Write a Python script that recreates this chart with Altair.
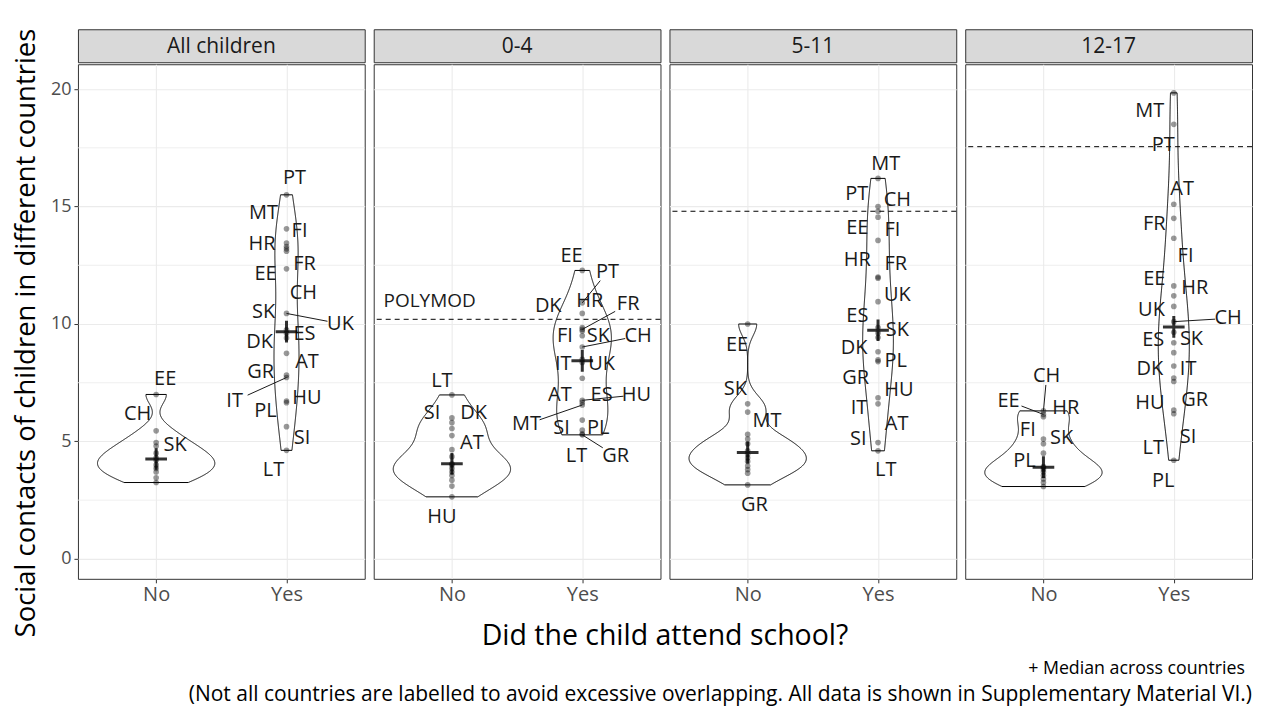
import altair as alt
import numpy as np
import pandas as pd

PANELS = ["All children", "0-4", "5-11", "12-17"]

# ---------------- data: mean social contacts per country ("" = unlabelled) ----------------
all_no_c = ["EE", "CH", "SK", "", "", "", "", "", "", "", "", ""]
all_no_v = [7.0, 5.45, 4.95, 4.8, 4.5, 4.3, 4.2, 4.0, 3.85, 3.7, 3.45, 3.25]
all_yes_c = ["PT", "FI", "MT", "HR", "FR", "CH", "EE", "UK", "SK", "ES", "DK", "AT", "GR", "IT", "HU", "PL", "SI", "LT"]
all_yes_v = [15.5, 14.05, 13.45, 13.3, 13.2, 13.1, 12.35, 10.45, 9.75, 9.6, 9.4, 8.75, 7.82, 7.72, 6.72, 6.65, 5.63, 4.62]

a04_no_c = ["LT", "SI", "DK", "", "", "AT", "", "", "", "", "", "", "", "", "HU"]
a04_no_v = [6.98, 6.0, 5.8, 5.55, 5.25, 4.65, 4.35, 4.05, 4.0, 3.85, 3.7, 3.55, 3.35, 3.1, 2.64]
a04_yes_c = ["EE", "PT", "HR", "DK", "FR", "FI", "SK", "CH", "IT", "UK", "AT", "HU", "ES", "MT", "SI", "PL", "LT", "GR"]
a04_yes_v = [12.28, 10.9, 10.45, 9.85, 9.77, 9.7, 9.5, 9.02, 8.5, 8.36, 7.69, 6.75, 6.66, 6.55, 5.91, 5.48, 5.32, 5.28]

a511_no_c = ["EE", "SK", "MT", "", "", "", "", "", "", "", "", "", "", "GR"]
a511_no_v = [10.0, 6.6, 6.25, 5.3, 5.1, 4.9, 4.6, 4.45, 4.3, 4.15, 3.95, 3.8, 3.65, 3.15]
a511_yes_c = ["MT", "CH", "PT", "EE", "FI", "HR", "FR", "UK", "ES", "SK", "DK", "PL", "GR", "HU", "IT", "AT", "SI", "LT"]
a511_yes_v = [16.2, 15.0, 14.8, 14.55, 13.56, 12.0, 11.95, 10.95, 9.85, 9.62, 9.42, 8.82, 8.47, 8.4, 6.86, 6.6, 4.95, 4.6]

a1217_no_c = ["CH", "EE", "HR", "SK", "FI", "", "", "PL", "", "", "", "", "", ""]
a1217_no_v = [6.3, 6.15, 6.05, 5.1, 4.9, 4.5, 3.93, 3.88, 3.8, 3.7, 3.55, 3.4, 3.25, 3.08]
a1217_yes_c = ["MT", "PT", "AT", "FR", "FI", "EE", "HR", "UK", "CH", "SK", "ES", "DK", "IT", "HU", "GR", "SI", "LT", "PL"]
a1217_yes_v = [19.84, 18.5, 15.1, 14.5, 13.65, 11.62, 11.2, 10.75, 10.1, 9.65, 9.2, 8.78, 8.21, 7.7, 7.55, 6.33, 6.18, 4.2]

# ---------------- label placement (repelled labels) ----------------
all_no_lab = ["EE", "CH", "SK"]
all_no_lx = [1.069, 0.858, 1.146]
all_no_ly = [7.65, 6.16, 4.85]
all_yes_lab = ["PT", "MT", "FI", "HR", "FR", "EE", "CH", "SK", "UK", "ES", "DK", "AT", "GR", "IT", "HU", "PL", "SI", "LT"]
all_yes_lx = [2.061, 1.824, 2.100, 1.812, 2.138, 1.839, 2.130, 1.824, 2.414, 2.138, 1.793, 2.157, 1.801, 1.602, 2.157, 1.839, 2.119, 1.900]
all_yes_ly = [16.2, 14.74, 13.96, 13.42, 12.57, 12.11, 11.33, 10.52, 10.01, 9.59, 9.25, 8.38, 7.96, 6.72, 6.86, 6.30, 5.14, 3.77]

a04_no_lab = ["LT", "SI", "DK", "AT", "HU"]
a04_no_lx = [0.923, 0.847, 1.166, 1.153, 0.923]
a04_no_ly = [7.57, 6.23, 6.23, 4.95, 1.79]
a04_yes_lab = ["EE", "PT", "DK", "HR", "FR", "FI", "SK", "CH", "IT", "UK", "AT", "ES", "HU", "MT", "SI", "PL", "LT", "GR"]
a04_yes_lx = [1.918, 2.194, 1.739, 2.058, 2.352, 1.867, 2.123, 2.429, 1.854, 2.148, 1.828, 2.148, 2.416, 1.573, 1.841, 2.123, 1.956, 2.257]
a04_yes_ly = [12.89, 12.23, 10.77, 10.98, 10.84, 9.49, 9.49, 9.49, 8.28, 8.28, 6.98, 6.98, 6.98, 5.73, 5.56, 5.56, 4.38, 4.38]

a511_no_lab = ["EE", "SK", "MT", "GR"]
a511_no_lx = [0.918, 0.906, 1.148, 1.051]
a511_no_ly = [9.11, 7.22, 5.87, 2.30]
a511_yes_lab = ["MT", "PT", "CH", "EE", "FI", "HR", "FR", "UK", "ES", "SK", "DK", "PL", "GR", "HU", "IT", "AT", "SI", "LT"]
a511_yes_lx = [2.059, 1.837, 2.148, 1.841, 2.110, 1.841, 2.136, 2.148, 1.841, 2.148, 1.816, 2.136, 1.829, 2.161, 1.854, 2.143, 1.849, 2.059]
a511_yes_ly = [16.82, 15.52, 15.26, 14.07, 13.99, 12.71, 12.57, 11.23, 10.34, 9.73, 8.97, 8.43, 7.69, 7.18, 6.44, 5.73, 5.09, 3.77]

a1217_no_lab = ["CH", "EE", "HR", "FI", "SK", "PL"]
a1217_no_lx = [1.025, 0.732, 1.171, 0.880, 1.140, 0.854]
a1217_no_ly = [7.79, 6.72, 6.41, 5.48, 5.16, 4.17]
a1217_yes_lab = ["MT", "PT", "AT", "FR", "FI", "EE", "HR", "UK", "CH", "ES", "SK", "DK", "IT", "HU", "GR", "LT", "SI", "PL"]
a1217_yes_lx = [1.816, 1.919, 2.064, 1.850, 2.090, 1.850, 2.161, 1.829, 2.417, 1.842, 2.136, 1.816, 2.110, 1.816, 2.161, 1.842, 2.110, 1.919]
a1217_yes_ly = [19.06, 17.62, 15.73, 14.27, 12.89, 11.90, 11.55, 10.58, 10.24, 9.31, 9.35, 8.07, 8.07, 6.65, 6.75, 4.74, 5.19, 3.32]

# labels that are joined to their point by a leader line
seg_all = {"Yes": ["UK", "IT"]}
seg_a04 = {"Yes": ["PT", "FR", "CH", "HU", "MT", "GR"]}
seg_a511 = {}
seg_a1217 = {"No": ["CH", "EE"], "Yes": ["CH"]}

# dashed reference values (POLYMOD)
ref_panel = ["0-4", "5-11", "12-17"]
ref_value = [10.2, 14.8, 17.55]

minor_grid = [2.5, 7.5, 12.5, 17.5]

# ---------------- build tables ----------------
groups = {
    "All children": dict(no=(all_no_c, all_no_v), yes=(all_yes_c, all_yes_v),
                         lno=(all_no_lab, all_no_lx, all_no_ly), lyes=(all_yes_lab, all_yes_lx, all_yes_ly), seg=seg_all),
    "0-4": dict(no=(a04_no_c, a04_no_v), yes=(a04_yes_c, a04_yes_v),
                lno=(a04_no_lab, a04_no_lx, a04_no_ly), lyes=(a04_yes_lab, a04_yes_lx, a04_yes_ly), seg=seg_a04),
    "5-11": dict(no=(a511_no_c, a511_no_v), yes=(a511_yes_c, a511_yes_v),
                 lno=(a511_no_lab, a511_no_lx, a511_no_ly), lyes=(a511_yes_lab, a511_yes_lx, a511_yes_ly), seg=seg_a511),
    "12-17": dict(no=(a1217_no_c, a1217_no_v), yes=(a1217_yes_c, a1217_yes_v),
                  lno=(a1217_no_lab, a1217_no_lx, a1217_no_ly), lyes=(a1217_yes_lab, a1217_yes_lx, a1217_yes_ly), seg=seg_a1217),
}


def kde(vals):
    v = np.asarray(vals, float)
    n = v.size
    sd = v.std(ddof=1)
    q1, q3 = np.percentile(v, [25, 75])
    bw = 0.9 * min(sd, (q3 - q1) / 1.34) * n ** -0.2
    ys = np.linspace(v.min(), v.max(), 512)
    d = np.exp(-0.5 * ((ys[:, None] - v[None, :]) / bw) ** 2).sum(1) / (n * bw * np.sqrt(2 * np.pi))
    return ys, d


W, H, SH = 287, 515, 33
GAP = 9
FONT = "Open Sans"
YDOM = [-0.85, 21.06]
PXX = W / 2.2
PXY = H / (YDOM[1] - YDOM[0])


def panel_tables(name):
    g = groups[name]
    pts, vio, labs, segs = [], [], [], []
    dens = {}
    for grp, pos, key in (("No", 1, "no"), ("Yes", 2, "yes")):
        cs, vs = g[key]
        for c, v in zip(cs, vs):
            pts.append(dict(x=pos, y=v, country=c, grp=grp))
        dens[grp] = kde(vs)
    m = max(dens["No"][1].max(), dens["Yes"][1].max())
    for grp, pos in (("No", 1), ("Yes", 2)):
        ys, d = dens[grp]
        hw = 0.45 * d / m
        for yy, h in zip(ys, hw):
            vio.append(dict(grp=grp, y=yy, lo=pos - h, hi=pos + h))
    for grp, pos, key in (("No", 1, "lno"), ("Yes", 2, "lyes")):
        cs, vs = g[key[1:]]
        lab, lx, ly = g[key]
        lookup = dict(zip(cs, vs))
        for c, x, y in zip(lab, lx, ly):
            labs.append(dict(x=x, y=y, label=c))
            if c in g["seg"].get(grp, []):
                py = lookup[c]
                dxp = (pos - x) * PXX
                dyp = (py - y) * PXY
                t = min(13 / max(abs(dxp), 1e-6), 9 / max(abs(dyp), 1e-6))
                segs.append(dict(x=x + t * (pos - x), y=y + t * (py - y), x2=pos, y2=py))
    return pd.DataFrame(pts), pd.DataFrame(vio), pd.DataFrame(labs), pd.DataFrame(segs)


XS = alt.Scale(domain=[0.4, 2.6], nice=False, zero=False)
YS = alt.Scale(domain=YDOM, nice=False, zero=False)


def X(field):
    return alt.X(f"{field}:Q", scale=XS,
                 axis=alt.Axis(values=[1, 2], labelExpr="datum.value == 1 ? 'No' : 'Yes'", title=None,
                               grid=True, gridColor="#EBEBEB", gridWidth=1.1, domain=False,
                               tickColor="#333333", tickSize=4, labelColor="#4D4D4D", labelFontSize=20,
                               labelFont=FONT, labelPadding=2))


def Y(field, first):
    if first:
        ax = alt.Axis(values=[0, 5, 10, 15, 20], title=None, labelFontSize=18, labelColor="#4D4D4D",
                      labelFont=FONT, tickColor="#333333", tickSize=4, grid=True, gridColor="#EBEBEB",
                      gridWidth=1.1, domain=False, labelPadding=3)
    else:
        ax = alt.Axis(values=[0, 5, 10, 15, 20], labels=False, ticks=False, title=None, grid=True,
                      gridColor="#EBEBEB", gridWidth=1.1, domain=False)
    return alt.Y(f"{field}:Q", scale=YS, axis=ax)


def make_panel(i, name):
    first = i == 0
    pts, vio, labs, segs = panel_tables(name)
    layers = []
    layers.append(alt.Chart(pd.DataFrame({"y": minor_grid})).mark_rule(color="#EBEBEB", strokeWidth=0.8)
                  .encode(y=Y("y", first)))
    if name in ref_panel:
        rv = pd.DataFrame({"y": [ref_value[ref_panel.index(name)]]})
        layers.append(alt.Chart(rv).mark_rule(color="black", strokeWidth=1, strokeDash=[5, 4])
                      .encode(y=Y("y", first)))
    layers.append(alt.Chart(vio).mark_area(orient="horizontal", fillOpacity=0, stroke="black", strokeWidth=1)
                  .encode(y=Y("y", first), x=X("lo"), x2="hi:Q", detail="grp:N"))
    layers.append(alt.Chart(pts).mark_circle(size=32, color="black", opacity=0.4)
                  .encode(x=X("x"), y=Y("y", first)))
    if len(segs):
        layers.append(alt.Chart(segs).mark_rule(color="#1A1A1A", strokeWidth=1)
                      .encode(x=X("x"), y=Y("y", first), x2="x2:Q", y2="y2:Q"))
    layers.append(alt.Chart(labs).mark_text(fontSize=20, font=FONT, color="#1A1A1A")
                  .encode(x=X("x"), y=Y("y", first), text="label:N"))
    layers.append(alt.Chart(pts).transform_aggregate(y="median(y)", groupby=["x"])
                  .mark_point(shape="M-1,0L1,0M0,-1L0,1", size=470, strokeWidth=3, color="black",
                              opacity=0.8, filled=False)
                  .encode(x=X("x"), y=Y("y", first)))
    if name == "0-4":
        layers.append(alt.Chart(pd.DataFrame({"x": [0.475], "y": [11.0], "t": ["POLYMOD"]}))
                      .mark_text(fontSize=19, font=FONT, color="#1A1A1A", align="left")
                      .encode(x=X("x"), y=Y("y", first), text="t:N"))
    plot = alt.layer(*layers).properties(width=W, height=H)
    strip = (alt.Chart(pd.DataFrame({"t": [name]}))
             .mark_text(fontSize=21, font=FONT, color="#1A1A1A")
             .encode(text="t:N", x=alt.value(W / 2), y=alt.value(SH / 2 + 1))
             .properties(width=W, height=SH, view=alt.ViewBackground(fill="#D9D9D9", stroke="#333333")))
    return alt.vconcat(strip, plot, spacing=0)


panels = [make_panel(i, n) for i, n in enumerate(PANELS)]
TOT = 4 * W + 3 * GAP

footer_df = pd.DataFrame({
    "t": ["Did the child attend school?", "+ Median across countries",
          "(Not all countries are labelled to avoid excessive overlapping. All data is shown in Supplementary Material VI.)"]})
footer = alt.layer(
    alt.Chart(footer_df).transform_filter(alt.datum.t == footer_df.t[0])
    .mark_text(fontSize=28.5, font=FONT, color="black", align="center")
    .encode(text="t:N", x=alt.value(TOT / 2), y=alt.value(29)),
    alt.Chart(footer_df).transform_filter(alt.datum.t == footer_df.t[1])
    .mark_text(fontSize=17.8, font=FONT, color="black", align="right")
    .encode(text="t:N", x=alt.value(TOT - 7), y=alt.value(62)),
    alt.Chart(footer_df).transform_filter(alt.datum.t == footer_df.t[2])
    .mark_text(fontSize=21, font=FONT, color="black", align="right")
    .encode(text="t:N", x=alt.value(TOT), y=alt.value(88)),
).properties(width=TOT, height=96, view=alt.ViewBackground(stroke="transparent"))

ytitle = alt.TitleParams(text="Social contacts of children in different countries", orient="left",
                         anchor="middle", fontSize=27.5, font=FONT, fontWeight="normal", color="black",
                         offset=9, dx=34)

chart = (alt.vconcat(alt.hconcat(*panels, spacing=GAP - 2), footer, spacing=0)
         .properties(title=ytitle, padding={"left": 5, "top": 20, "right": 0, "bottom": 0}, background="white")
         .configure_view(stroke="#333333", strokeWidth=1))

chart.save("out.html", embed_options={"renderer": "svg", "actions": False})
